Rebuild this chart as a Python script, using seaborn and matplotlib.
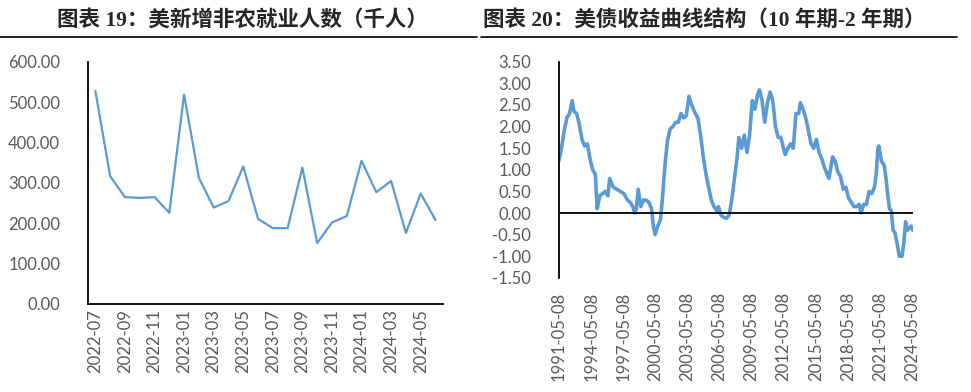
import numpy as np
import pandas as pd
import matplotlib
matplotlib.use("Agg")
import matplotlib.pyplot as plt
from matplotlib.lines import Line2D
import seaborn as sns

# left panel: monthly nonfarm payrolls (thousands)
nfp_months = pd.period_range("2022-07", "2024-06", freq="M").strftime("%Y-%m").tolist()
nfp_values = [528, 317, 265, 263, 265, 226, 519, 313, 239, 255, 341, 211,
              188, 188, 338, 151, 202, 218, 355, 277, 305, 176, 274, 208]

# right panel: 10y-2y spread
spread_dates = [
    "1991-05", "1991-08", "1991-11", "1992-02", "1992-05", "1992-08", "1992-10", "1993-01",
    "1993-04", "1993-07", "1993-10", "1994-01", "1994-04", "1994-07", "1994-10", "1994-12",
    "1995-03", "1995-06", "1995-09", "1995-12", "1996-02", "1996-06", "1996-10", "1997-02",
    "1997-06", "1997-10", "1998-01", "1998-04", "1998-06", "1998-08", "1998-10", "1999-01",
    "1999-04", "1999-07", "1999-10", "2000-01", "2000-03", "2000-05", "2000-08", "2000-11",
    "2001-01", "2001-04", "2001-07", "2001-10", "2002-01", "2002-04", "2002-07", "2002-10",
    "2003-01", "2003-04", "2003-07", "2003-09", "2003-11", "2004-02", "2004-05", "2004-08",
    "2004-11", "2005-02", "2005-05", "2005-08", "2005-11", "2006-02", "2006-04", "2006-07",
    "2006-10", "2007-01", "2007-04", "2007-07", "2007-10", "2008-01", "2008-03", "2008-06",
    "2008-09", "2008-12", "2009-03", "2009-06", "2009-09", "2009-12", "2010-02", "2010-05",
    "2010-08", "2010-11", "2011-02", "2011-05", "2011-08", "2011-11", "2012-02", "2012-05",
    "2012-07", "2012-10", "2013-01", "2013-04", "2013-07", "2013-10", "2013-12", "2014-03",
    "2014-06", "2014-09", "2014-12", "2015-03", "2015-06", "2015-09", "2015-12", "2016-03",
    "2016-06", "2016-08", "2016-12", "2017-03", "2017-06", "2017-09", "2017-12", "2018-03",
    "2018-06", "2018-09", "2018-12", "2019-03", "2019-06", "2019-08", "2019-11", "2020-02",
    "2020-05", "2020-08", "2020-11", "2021-01", "2021-03", "2021-04", "2021-07", "2021-10",
    "2021-12", "2022-02", "2022-04", "2022-06", "2022-08", "2022-10", "2022-12", "2023-03",
    "2023-06", "2023-08", "2023-10", "2023-12", "2024-02", "2024-04", "2024-06",
]
spread_values = [
    1.20, 1.50, 1.90, 2.20, 2.30, 2.60, 2.35, 2.30,
    2.05, 1.70, 1.55, 1.60, 1.25, 1.00, 0.90, 0.10,
    0.40, 0.45, 0.50, 0.40, 0.80, 0.60, 0.55, 0.50,
    0.45, 0.30, 0.25, 0.15, 0.00, 0.10, 0.55, 0.15,
    0.30, 0.30, 0.25, 0.10, -0.30, -0.50, -0.30, -0.15,
    0.30, 1.10, 1.70, 1.95, 2.00, 2.10, 2.10, 2.30,
    2.20, 2.25, 2.70, 2.55, 2.45, 2.30, 2.20, 1.80,
    1.30, 0.90, 0.60, 0.30, 0.15, 0.05, 0.15, -0.05,
    -0.10, -0.12, -0.05, 0.30, 0.80, 1.30, 1.75, 1.50,
    1.80, 1.40, 1.80, 2.60, 2.40, 2.75, 2.85, 2.60,
    2.10, 2.55, 2.80, 2.60, 2.00, 1.75, 1.75, 1.50,
    1.35, 1.50, 1.60, 1.50, 2.30, 2.30, 2.55, 2.40,
    2.20, 1.90, 1.60, 1.50, 1.70, 1.40, 1.25, 1.05,
    0.90, 0.80, 1.30, 1.20, 0.95, 0.85, 0.55, 0.60,
    0.35, 0.25, 0.15, 0.15, 0.20, 0.00, 0.20, 0.20,
    0.50, 0.45, 0.60, 0.90, 1.50, 1.55, 1.20, 1.10,
    0.80, 0.40, 0.10, 0.05, -0.40, -0.45, -0.65, -1.00,
    -1.00, -0.70, -0.20, -0.40, -0.35, -0.30, -0.40,
]

blue = "#5B9BD5"
gray = "#595959"

sns.set_theme(style="white")
plt.rcParams["font.family"] = ["Lato", "DejaVu Sans"]

fig = plt.figure(figsize=(9.71, 3.92), dpi=100)

# ---- left chart
ax1 = fig.add_axes([0.0906, 0.2245, 0.3655, 0.6175])
df1 = pd.DataFrame({"month": nfp_months, "value": nfp_values})
df1["pos"] = np.arange(len(df1))
sns.lineplot(data=df1, x="pos", y="value", color=blue, linewidth=1.6, ax=ax1)
ax1.set_xlim(-0.5, len(df1) - 0.5)
ax1.set_ylim(0, 600)
ax1.set_yticks(np.arange(0, 601, 100))
ax1.set_yticklabels([f"{v:.2f}" for v in np.arange(0, 601, 100)])
ax1.set_xticks(df1["pos"][::2])
ax1.set_xticklabels(df1["month"][::2], rotation=90)
ax1.set_xlabel("")
ax1.set_ylabel("")
for s in ["top", "right"]:
    ax1.spines[s].set_visible(False)
for s in ["left", "bottom"]:
    ax1.spines[s].set_color("black")
    ax1.spines[s].set_linewidth(1.3)
ax1.tick_params(axis="y", length=0, pad=20, labelsize=12, labelcolor=gray)
ax1.tick_params(axis="x", length=0, pad=4, labelsize=12, labelcolor=gray)

# ---- right chart
ax2 = fig.add_axes([0.5757, 0.291, 0.3643, 0.5516])
df2 = pd.DataFrame({"date": pd.to_datetime(spread_dates), "spread": spread_values})
sns.lineplot(data=df2, x="date", y="spread", color=blue, linewidth=2.6, ax=ax2)
ax2.set_xlim(pd.Timestamp("1991-05-08"), pd.Timestamp("2024-06-01"))
ax2.set_ylim(-1.5, 3.5)
ax2.set_yticks(np.arange(-1.5, 3.51, 0.5))
ax2.set_yticklabels([f"{v:.2f}" for v in np.arange(-1.5, 3.51, 0.5)])
xt = pd.date_range("1991-05-08", periods=12, freq=pd.DateOffset(years=3))
ax2.set_xticks(xt)
ax2.set_xticklabels([d.strftime("%Y-%m-%d") for d in xt], rotation=90)
ax2.axhline(0, color="black", linewidth=1.3)
ax2.set_xlabel("")
ax2.set_ylabel("")
for s in ["top", "right", "bottom"]:
    ax2.spines[s].set_visible(False)
ax2.spines["left"].set_color("black")
ax2.spines["left"].set_linewidth(1.3)
ax2.tick_params(axis="y", length=0, pad=20, labelsize=12, labelcolor=gray)
ax2.tick_params(axis="x", length=0, pad=10, labelsize=12, labelcolor=gray)

# titles with rule underneath
title_font = ["Liberation Serif", "Noto Sans CJK SC"]
fig.text(57 / 971, 1 - 20 / 392, "图表 19：美新增非农就业人数（千人）", family=title_font,
         fontsize=15.5, fontweight="bold", color="#262626", ha="left", va="center")
fig.text(483 / 971, 1 - 20 / 392, "图表 20：美债收益曲线结构（10 年期-2 年期）", family=title_font,
         fontsize=15.5, fontweight="bold", color="#262626", ha="left", va="center")
fig.add_artist(Line2D([0, 477 / 971], [1 - 37 / 392] * 2, color="black", linewidth=1.2))
fig.add_artist(Line2D([481 / 971, 957 / 971], [1 - 37 / 392] * 2, color="black", linewidth=1.2))

fig.savefig("out.png", dpi=100)
